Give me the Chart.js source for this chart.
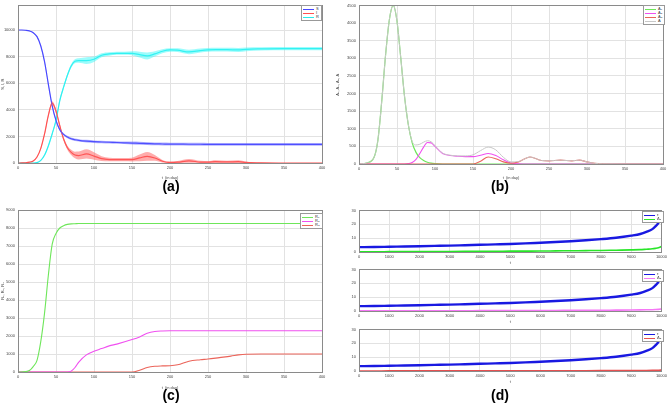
<!DOCTYPE html>
<html><head><meta charset="utf-8">
<script src="https://cdn.jsdelivr.net/npm/chart.js@4.4.0/dist/chart.umd.min.js"></script>
<style>
body{margin:0;background:#fff;width:669px;height:409px;position:relative;overflow:hidden;font-family:"Liberation Sans",Arial,sans-serif}
canvas{position:absolute}
.cap{position:absolute;font-weight:bold;font-size:14px;transform:translateX(-50%);line-height:14px}
.leg{position:absolute;background:#fff;border:1px solid #999;font-size:4px;line-height:4px;padding:1px 2px 1px 1px;color:#333}
.leg div{display:flex;align-items:center;height:4px;white-space:nowrap}
.leg span.l{display:inline-block;width:11px;height:1px;margin-right:2px}
</style></head><body>
<canvas id="ca" width="335" height="180" style="left:0;top:0"></canvas>
<canvas id="cb" width="334" height="180" style="left:335px;top:0"></canvas>
<canvas id="cc" width="335" height="190" style="left:0;top:200px"></canvas>
<canvas id="cd1" width="334" height="60" style="left:335px;top:205px"></canvas>
<canvas id="cd2" width="334" height="60" style="left:335px;top:264px"></canvas>
<canvas id="cd3" width="334" height="60" style="left:335px;top:324px"></canvas>
<div class="cap" style="left:171px;top:179px">(a)</div>
<div class="cap" style="left:500px;top:179px">(b)</div>
<div class="cap" style="left:171px;top:388px">(c)</div>
<div class="cap" style="left:500px;top:388px">(d)</div>
<script>
// ---------- tick labels ----------
const ticksT = [0,50,100,150,200,250,300,350,400];
const ticksAy = [0,2000,4000,6000,8000,10000];
const ticksBy = [0,500,1000,1500,2000,2500,3000,3500,4000,4500];
const ticksCy = [0,1000,2000,3000,4000,5000,6000,7000,8000,9000];
const ticksDx = [0,1000,2000,3000,4000,5000,6000,7000,8000,9000,10000];
const ticksDy = [0,10,20,30];

// ---------- Panel (a) ----------
const tA = [0,5,10,15,20,25,30,35,40,45,50,55,60,65,70,75,80,90,100,110,120,130,140,150,160,170,180,190,200,210,225,240,250,260,275,290,300,320,350,400];
const S_a = [10000,10000,9980,9930,9800,9500,8800,7600,5900,4300,3200,2500,2150,1950,1820,1750,1700,1640,1600,1580,1560,1540,1520,1500,1480,1460,1440,1430,1420,1420,1410,1410,1400,1400,1400,1400,1400,1400,1400,1400];
const S_band = [0,0,10,20,30,40,60,80,90,90,90,90,90,90,90,90,90,100,100,100,100,100,100,110,110,110,110,110,110,110,110,110,110,110,110,110,110,110,110,110];
const I_a = [0,5,20,60,150,450,1100,2200,3600,4500,3900,2800,1800,1150,800,600,560,680,520,330,260,250,250,260,380,500,380,130,40,60,160,70,60,100,80,100,40,5,0,0];
const I_band = [0,0,5,10,20,40,60,90,120,150,150,140,130,150,200,250,300,350,280,180,130,120,120,140,250,330,220,100,60,90,150,100,80,100,90,100,60,10,0,0];
const R_a = [0,0,0,0,0,30,200,600,1300,2200,3200,4700,5700,6600,7300,7650,7700,7700,7800,8100,8200,8250,8250,8250,8150,8050,8200,8400,8500,8480,8350,8450,8500,8520,8520,8500,8550,8580,8600,8600];
const R_band = [0,0,0,0,0,10,30,50,70,90,100,110,120,130,140,150,170,250,200,150,130,120,120,150,220,260,200,150,130,140,170,150,140,140,140,150,140,130,130,130];
const legA = ['S','I','R'];

// ---------- Panel (b) ----------
const tB = [0,10,20,25,30,35,40,45,50,55,60,65,70,75,80,85,90,95,100,110,120,130,140,150,160,170,180,190,200,210,225,240,250,265,280,290,300,310,320,350,400];
const A1_b = [0,30,200,700,1800,3100,4100,4500,4050,3000,1900,1100,600,330,180,100,50,25,12,0,0,0,0,0,0,0,0,0,0,0,0,0,0,0,0,0,0,0,0,0,0];
const A2_b = [0,0,0,0,0,0,0,0,0,0,0,10,40,130,300,480,610,600,500,300,240,220,210,210,250,300,240,120,30,5,0,0,0,0,0,0,0,0,0,0,0];
const A3_b = [0,0,0,0,0,0,0,0,0,0,0,0,0,0,0,0,0,0,0,0,0,0,0,0,80,200,150,60,20,60,200,100,90,110,90,110,60,20,5,0,0];
const A_b  = [0,30,200,700,1800,3100,4100,4500,4050,3000,1900,1110,640,540,560,620,660,630,520,310,250,230,230,260,380,480,400,190,60,70,200,100,90,110,90,110,60,20,5,0,0];
const legB = ['A\u2081','A\u2082','A\u2083','A'];

// ---------- Panel (c) ----------
const tC = [0,10,15,20,25,30,35,40,45,50,55,60,65,70,75,80,90,100,110,120,130,150,160,170,180,190,200,210,225,240,250,265,280,290,300,320,350,400];
const R1_c = [0,20,80,300,650,1700,3300,5400,7100,7700,8000,8130,8200,8230,8240,8250,8250,8250,8250,8250,8250,8250,8250,8250,8250,8250,8250,8250,8250,8250,8250,8250,8250,8250,8250,8250,8250,8250];
const R2_c = [0,0,0,0,0,0,0,0,0,0,0,0,0,50,250,550,950,1150,1300,1450,1550,1800,1950,2150,2250,2280,2290,2290,2290,2290,2290,2290,2290,2290,2290,2290,2290,2290];
const R3_c = [0,0,0,0,0,0,0,0,0,0,0,0,0,0,0,0,0,0,0,0,0,0,100,250,320,340,350,400,600,680,720,800,880,950,990,1000,1000,1000];
const legC = ['R\u2081','R\u2082','R\u2083'];

// ---------- Panel (d) ----------
const xD = [0,500,1000,1500,2000,2500,3000,3500,4000,4500,5000,5500,6000,6500,7000,7500,8000,8500,9000,9300,9500,9700,9800,9900,9950,10000];
const tau_d = [3.5,3.6,3.8,4.0,4.2,4.4,4.6,4.9,5.2,5.5,5.8,6.2,6.7,7.2,7.8,8.5,9.3,10.3,11.8,13.0,14.5,16.5,18.5,21,24,28];
const d1_d = [0.2,0.2,0.25,0.3,0.3,0.35,0.4,0.45,0.5,0.55,0.6,0.65,0.7,0.8,0.9,1.0,1.1,1.3,1.5,1.7,2.0,2.3,2.6,3.0,3.4,4.0];
const d2_d = [0.1,0.1,0.12,0.14,0.16,0.18,0.2,0.22,0.25,0.27,0.3,0.32,0.35,0.4,0.45,0.5,0.55,0.62,0.7,0.78,0.85,0.95,1.05,1.2,1.35,1.5];
const d3_d = [0.05,0.05,0.06,0.07,0.08,0.09,0.1,0.11,0.12,0.13,0.14,0.15,0.17,0.19,0.21,0.23,0.26,0.29,0.33,0.37,0.4,0.45,0.5,0.55,0.6,0.65];
const legD1 = ['\u03c4','\u0394\u2081'];
const legD2 = ['\u03c4','\u0394\u2082'];
const legD3 = ['\u03c4','\u0394\u2083'];

// ---------- helpers ----------
const pts = (xs, ys) => xs.map((x,i)=>({x, y: ys[i]}));
const shift = (xs, ys, hw, s) => xs.map((x,i)=>({x, y: Math.max(0, ys[i] + s*hw[i])}));
const frame = {id:'frame', afterDraw(c){const a=c.chartArea,g=c.ctx;g.save();g.strokeStyle='#8a8a8a';g.lineWidth=1;g.strokeRect(Math.round(a.left)+0.5,Math.round(a.top)+0.5,Math.round(a.right-a.left),Math.round(a.bottom-a.top));g.restore();}};
const TK = {size:4, family:'"Liberation Sans", Arial, sans-serif'};
function opts(o){
  return {
    responsive:false, animation:false,
    layout:{padding:{top:o.pt,right:o.pr,left:0,bottom:0}},
    plugins:{legend:{display:false},tooltip:{enabled:false}},
    elements:{point:{radius:0}, line:{borderWidth:1, tension:0.4, cubicInterpolationMode:'monotone'}},
    scales:{
      x:{type:'linear',min:o.xmin,max:o.xmax,
         ticks:{font:TK,color:'#444',maxRotation:0,padding:2,autoSkip:false,callback:v=>String(v)},
         afterBuildTicks:s=>{s.ticks=o.xt_.map(v=>({value:v}));},
         grid:{color:'#e2e2e2',tickLength:0}, border:{display:false},
         title:{display:!!o.xt,text:o.xt,font:TK,color:'#444',padding:0},
         afterFit:s=>{s.height=o.xh;}},
      y:{type:'linear',min:0,max:o.ymax,
         ticks:{font:TK,color:'#444',padding:3,autoSkip:false,callback:v=>String(v)},
         afterBuildTicks:s=>{s.ticks=o.yt_.map(v=>({value:v}));},
         grid:{color:'#e2e2e2',tickLength:0}, border:{display:false},
         title:{display:!!o.yt,text:o.yt,font:TK,color:'#444',padding:0},
         afterFit:s=>{s.width=o.yw;}}
    }
  };
}
function line(label,data,color,w){return {label,data,borderColor:color,backgroundColor:color,borderWidth:w||1,fill:false};}
function band(data,color,fill){return {label:'',data,borderWidth:0,borderColor:'transparent',backgroundColor:color,fill:fill};}
function legend(left,top,labels,colors){
  const d=document.createElement('div');d.className='leg';d.style.left=left+'px';d.style.top=top+'px';
  labels.forEach((t,i)=>{const r=document.createElement('div');const s=document.createElement('span');s.className='l';s.style.background=colors[i];r.appendChild(s);r.appendChild(document.createTextNode(t));d.appendChild(r);});
  document.body.appendChild(d);
}

// colors
const cS='rgb(70,70,255)', cI='rgb(255,80,80)', cR='rgb(40,235,235)';
const cG='rgb(110,230,90)', cM='rgb(240,80,240)', cRd='rgb(235,100,90)', cGr='rgb(200,200,200)';
const cB='rgb(25,25,225)';

// (a)
new Chart(document.getElementById('ca'),{type:'line',data:{datasets:[
  band(shift(tA,S_a,S_band,1),'rgba(90,90,255,0.45)','+1'), band(shift(tA,S_a,S_band,-1),'rgba(0,0,0,0)',false),
  band(shift(tA,I_a,I_band,1),'rgba(255,90,90,0.5)','+1'), band(shift(tA,I_a,I_band,-1),'rgba(0,0,0,0)',false),
  band(shift(tA,R_a,R_band,1),'rgba(60,250,250,0.5)','+1'), band(shift(tA,R_a,R_band,-1),'rgba(0,0,0,0)',false),
  line(legA[0],pts(tA,S_a),cS,1.2), line(legA[1],pts(tA,I_a),cI,1.2), line(legA[2],pts(tA,R_a),cR,1.2)
]},options:opts({pt:3,pr:13,xh:17,yw:18,xmin:0,xmax:400,xt_:ticksT,ymax:11850,yt_:ticksAy,xt:'t  (in day)',yt:'S, I, R'}),plugins:[frame]});
legend(301,5,legA,[cS,cI,cR]);

// (b)
new Chart(document.getElementById('cb'),{type:'line',data:{datasets:[
  line(legB[3],pts(tB,A_b),cGr,1), line(legB[2],pts(tB,A3_b),cRd,1.1), line(legB[1],pts(tB,A2_b),cM,1.1), line(legB[0],pts(tB,A1_b),cG,1.2)
]},options:opts({pt:3,pr:6,xh:16,yw:24,xmin:0,xmax:400,xt_:ticksT,ymax:4500,yt_:ticksBy,xt:'t  (in day)',yt:'A\u2081, A\u2082, A\u2083, A'}),plugins:[frame]});
legend(643,5,legB,[cG,cM,cRd,cGr]);

// (c)
new Chart(document.getElementById('cc'),{type:'line',data:{datasets:[
  line(legC[0],pts(tC,R1_c),cG,1.1), line(legC[1],pts(tC,R2_c),cM,1.1), line(legC[2],pts(tC,R3_c),cRd,1.1)
]},options:opts({pt:10,pr:13,xh:18,yw:18,xmin:0,xmax:400,xt_:ticksT,ymax:9000,yt_:ticksCy,xt:'t  (in day)',yt:'R\u2081, R\u2082, R\u2083'}),plugins:[frame]});
legend(300,213,legC,[cG,cM,cRd]);

// (d)
function dChart(id,second,col,labs){
  new Chart(document.getElementById(id),{type:'line',data:{datasets:[
    line(labs[1],pts(xD,second),col,1.6), line(labs[0],pts(xD,tau_d),cB,2.4)
  ]},options:opts({pt:5,pr:6,xh:13,yw:24,xmin:0,xmax:10000,xt_:ticksDx,ymax:30,yt_:ticksDy,xt:'t',yt:''}),plugins:[frame]});
}
dChart('cd1',d1_d,'rgb(40,230,40)',legD1);
dChart('cd2',d2_d,'rgb(245,120,245)',legD2);
dChart('cd3',d3_d,'rgb(230,80,80)',legD3);
legend(642,211,legD1,[cB,'rgb(40,230,40)']);
legend(642,270,legD2,[cB,'rgb(245,120,245)']);
legend(642,330,legD3,[cB,'rgb(230,80,80)']);
</script>
</body></html>
